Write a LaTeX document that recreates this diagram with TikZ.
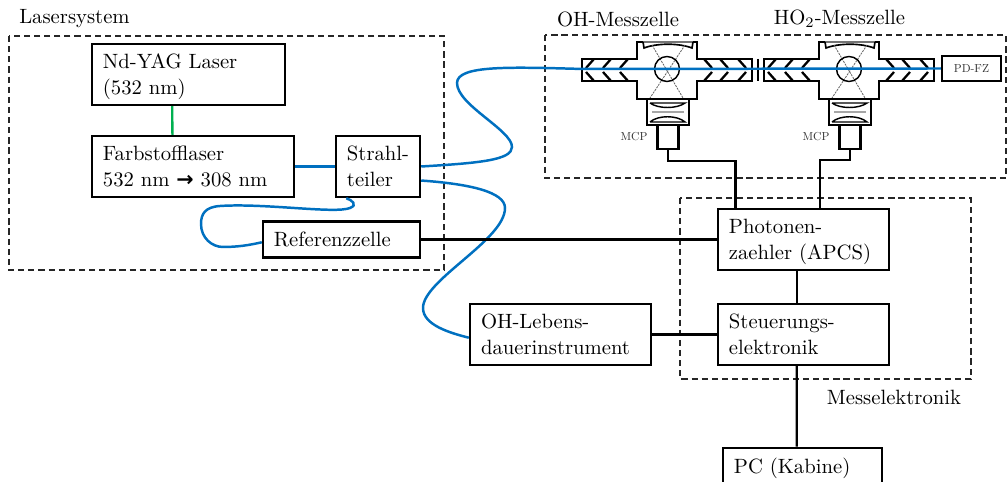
\documentclass[tikz,border=0pt]{standalone}
\usepackage{xcolor}
\usepackage{graphicx}
\usepackage{fontspec}
\newfontfamily\pfeilfont{DejaVu Sans}
\definecolor{strahl}{HTML}{0070C0}
\definecolor{pumpe}{HTML}{00B050}
\newcommand{\hoch}[1]{\rule{0pt}{#1}}
\newcommand{\winzig}[1]{\scalebox{0.56}{#1}}
\tikzset{
  kasten/.style={draw, line width=1.2pt, align=left, inner xsep=5.3pt, inner ysep=0pt, minimum height=29.5pt,
    execute at begin node={\setlength{\baselineskip}{12.8pt}}},
  klein/.style={draw, line width=1.2pt, inner sep=0pt, text=black!80},
  gestrichelt/.style={line width=0.7pt, black!85, dash pattern=on 3pt off 1.9pt},
  leitung/.style={line width=1.1pt},
  faser/.style={line width=1.2pt, strahl},
}

\begin{document}
\begin{tikzpicture}[x=0.017cm, y=-0.017cm]
  \useasboundingbox (0,0) rectangle (1008,482);

  % Draw the dashed frames
  \draw[gestrichelt] (9,36) rectangle (444,270);
  \draw[gestrichelt] (545,35) rectangle (1006,178);
  \draw[gestrichelt] (680,198) rectangle (971,379);

  \node (lasersystem) at (74.5,19) {Lasersystem};
  \node (ohtitel) at (618,19) {OH-Messzelle};
  \node (hotitel) at (839.5,19) {HO$_2$-Messzelle};
  \node (messelektronik) at (894,397) {Messelektronik};

  % Boxes
  \node[kasten, text width=82.8pt] (yag) at (188.5,74.5) {\hoch{9.3pt}Nd-YAG Laser\\(532 nm)};
  \node[kasten, text width=87.1pt] (farbstoff) at (193,166.5) {Farbstofflaser\\532 nm {\pfeilfont\bfseries →} 308 nm};
  \node[kasten, text width=30pt] (teiler) at (378,166.5) {\mbox{Strahl-}\\teiler};
  \node[kasten, text width=65.3pt, minimum height=17.4pt] (referenz) at (341.5,239.5) {Referenzzelle};
  \node[kasten, text width=76.9pt] (lebens) at (560.5,334.5) {OH-Lebens-\\dauerinstrument};
  \node[kasten, text width=72.1pt] (photonen) at (803.5,239.5) {\hoch{9.3pt}Photonen-\\zaehler (APCS)};
  \node[kasten, text width=72.1pt] (steuerung) at (803.5,334.5) {Steuerungs-\\elektronik};
  \node[kasten, text width=66.3pt, minimum height=18pt] (pc) at (802.5,466.5) {\hoch{9.5pt}PC (Kabine)};
  \node[klein, minimum width=28.5pt, minimum height=12pt] (pdfz) at (971.5,68.5) {\winzig{PD-FZ}};

  % The two measuring cells
  \foreach \zelle/\mx in {oh/667,ho/849} {
    \begin{scope}[shift={(\mx,69)}]
      \draw[line width=1.3pt] (-85,-10) -- (-30,-10) -- (-30,-27) -- (30,-27) -- (30,-10) -- (85,-10)
        -- (85,12) -- (30,12) -- (30,30) -- (-30,30) -- (-30,12) -- (-85,12) -- cycle;
      % mirror on top
      \fill[white] (-24,-28.5) rectangle (26,-24);
      \draw[line width=0.5pt, black!55] (-24,-27) -- (26,-27);
      \draw[line width=0.8pt] (-24,-27) -- (-23,-21) .. controls (-10,-26) and (12,-26) .. (25,-21) -- (26,-27);
      % crossing light paths
      \draw[line width=0.4pt, black!60, dash pattern=on 1pt off 0.5pt] (-15,-24) -- (16,29);
      \draw[line width=0.4pt, black!60, dash pattern=on 1pt off 0.5pt] (18,-24) -- (-17,29);
      \draw[line width=0.7pt] (0,0) circle (12.5);
      % chevrons
      \foreach \cx in {-81,-64,-47} {
        \draw[line width=1.1pt] (\cx+8,-10) -- (\cx,-1) (\cx,3) -- (\cx+8,12);
      }
      \foreach \cx in {45,61,79} {
        \draw[line width=1.1pt] (\cx-8,-10) -- (\cx,-1) (\cx,3) -- (\cx-8,12);
      }
      % lens box
      \draw[line width=1.3pt] (-20,30) rectangle (22,56);
      \draw[line width=0.7pt] (-17,34) -- (18,34) .. controls (10,40) and (-9,40) .. (-17,34);
      \draw[line width=0.7pt] (-17,53) -- (18,53) .. controls (10,46) and (-9,46) .. (-17,53);
      \draw[line width=1.3pt, black!35] (-15,43) -- (17,43);
      \node[klein, minimum width=10pt, minimum height=11.6pt] (mcp\zelle) at (1,68) {};
      \node[text=black!80, inner sep=0pt] (mcptext\zelle) at (-33,68) {\winzig{MCP}};
    \end{scope}
  }
  \draw[line width=1.3pt] (758,59) -- (758,81);

  % Green pump light and blue fibres
  \draw[line width=1.1pt, pumpe] (yag.-117) -- (farbstoff.123);
  \draw[faser] (farbstoff.east) -- (teiler.west);
  \draw[faser] (teiler.east) .. controls (480,163) and (512,160) .. (512,147)
    .. controls (512,130) and (457,105) .. (457,83)
    .. controls (457,65) and (510,67) .. (583,69) -- (pdfz.west);
  \draw[faser] (teiler.-18) .. controls (470,184) and (505,192) .. (505,208)
    .. controls (505,240) and (423,280) .. (423,308)
    .. controls (423,325) and (450,333) .. (lebens.182);
  \draw[faser] (teiler.-135) .. controls (352,200) and (358,205) .. (350,208)
    .. controls (335,214) and (265,203) .. (220,206)
    .. controls (205,207) and (201,214) .. (201,224)
    .. controls (201,238) and (212,247) .. (223,247)
    .. controls (238,247) and (250,245) .. (referenz.182);

  % Signal lines
  \draw[leitung] (referenz.east) -- (photonen.west);
  \draw[leitung] (lebens.east) -- (steuerung.west);
  \draw[leitung] (photonen.-102) -- (steuerung.102);
  \draw[leitung] (steuerung.-102) -- (pc.106);
  \draw[leitung] (mcpoh.south) -- ++(0,11) -| (photonen.155);
  \draw[leitung] (mcpho.south) -- ++(0,10) -| (photonen.63);
\end{tikzpicture}
\end{document}
